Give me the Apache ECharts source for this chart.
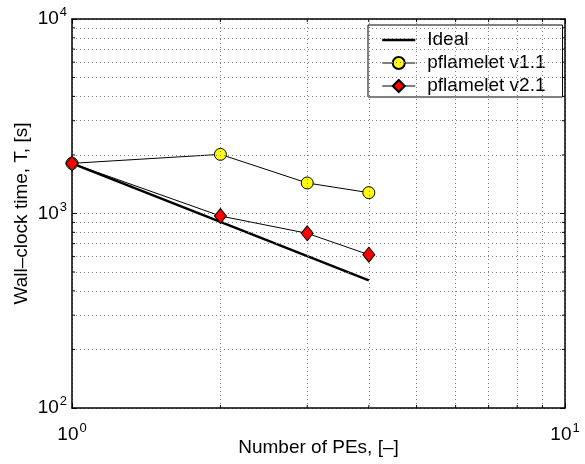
<!DOCTYPE html>
<html>
<head>
<meta charset="utf-8">
<script src="https://cdn.jsdelivr.net/npm/echarts@6/dist/echarts.min.js"></script>
<style>html,body{margin:0;padding:0;background:#fff;}#c{width:585px;height:464px;}</style>
</head>
<body>
<div id="c"></div>
<script>
const idealX = [1, 4];
const idealY = [1811, 453];
const peX = [1, 2, 3, 4];
const v11 = [1811, 2014, 1435, 1280];
const v21 = [1811, 971, 791, 614];
const xMinorGrid = [2, 3, 4, 5, 6, 7, 8, 9];
const yMinorGrid = [200, 300, 400, 500, 600, 700, 800, 900, 2000, 3000, 4000, 5000, 6000, 7000, 8000, 9000];
const seriesNames = ['Ideal', 'pflamelet v1.1', 'pflamelet v2.1'];
const X_MIN = 1, X_MAX = 10, Y_MIN = 100, Y_MAX = 10000;

const FONT = 'Liberation Sans, Arial, sans-serif';
const gridStyle = { color: '#808080', width: 1, type: [1, 3] };
function supLabel(v) {
  const e = Math.round(Math.log10(v));
  return '{b|10}{s|' + e + '}';
}
const richSup = {
  b: { fontSize: 19, fontFamily: FONT, color: '#000' },
  s: { fontSize: 13, fontFamily: FONT, color: '#000', padding: [0, 0, 13, 1] }
};
const zip = (xs, ys) => xs.map((x, i) => [x, ys[i]]);
const tickLine = (x1, y1, x2, y2) => ({
  type: 'line', shape: { x1, y1, x2, y2 },
  style: { stroke: '#000', lineWidth: 1 }
});
const MINOR_LEN = 3;

const chart = echarts.init(document.getElementById('c'), null, { renderer: 'canvas' });
chart.setOption({
  backgroundColor: '#fff',
  animation: false,
  grid: { left: 72, right: 20, top: 19, bottom: 56, containLabel: false, outerBoundsMode: 'none' },
  xAxis: [{
    type: 'log', logBase: 10, min: X_MIN, max: X_MAX,
    name: 'Number of PEs, [\u2013]', nameLocation: 'middle', nameGap: 30, nameMoveOverlap: false,
    nameTextStyle: { fontSize: 19, fontFamily: FONT, color: '#000' },
    axisLine: { show: true, lineStyle: { color: '#000', width: 1.5 } },
    axisTick: { show: true, inside: true, length: 5, lineStyle: { color: '#000' } },
    axisLabel: { formatter: supLabel, rich: richSup, margin: 14 },
    splitLine: { show: true, lineStyle: gridStyle }
  }, {
    type: 'log', logBase: 10, min: X_MIN, max: X_MAX, position: 'top',
    axisLine: { show: true, lineStyle: { color: '#000', width: 1.5 } },
    axisTick: { show: true, inside: true, length: 5, lineStyle: { color: '#000' } },
    axisLabel: { show: false }, splitLine: { show: false }
  }],
  yAxis: [{
    type: 'log', logBase: 10, min: Y_MIN, max: Y_MAX,
    name: 'Wall\u2013clock time, T, [s]', nameLocation: 'middle', nameGap: 41, nameMoveOverlap: false,
    nameTextStyle: { fontSize: 19, fontFamily: FONT, color: '#000' },
    axisLine: { show: true, lineStyle: { color: '#000', width: 1.5 } },
    axisTick: { show: true, inside: true, length: 5, lineStyle: { color: '#000' } },
    axisLabel: { formatter: supLabel, rich: richSup, margin: 5 },
    splitLine: { show: true, lineStyle: gridStyle }
  }, {
    type: 'log', logBase: 10, min: Y_MIN, max: Y_MAX, position: 'right',
    axisLine: { show: true, lineStyle: { color: '#000', width: 1.5 } },
    axisTick: { show: true, inside: true, length: 5, lineStyle: { color: '#000' } },
    axisLabel: { show: false }, splitLine: { show: false }
  }],
  legend: {
    orient: 'vertical', left: 368, top: 25,
    padding: [5, 17, 1, 13],
    itemWidth: 33, itemHeight: 15, itemGap: 3,
    backgroundColor: '#fff', borderColor: '#000', borderWidth: 1,
    textStyle: { fontSize: 19, lineHeight: 20, fontFamily: FONT, color: '#000', padding: [0, 0, 0, 7] },
    data: [
      { name: seriesNames[0], itemStyle: { opacity: 0 }, lineStyle: { width: 2.5, color: '#000' } },
      { name: seriesNames[1], lineStyle: { width: 1, color: '#000' } },
      { name: seriesNames[2], lineStyle: { width: 1, color: '#000' } }
    ]
  },
  series: [{
    name: 'grid-minor', type: 'line', data: [], silent: true,
    markLine: {
      silent: true, symbol: ['none', 'none'], label: { show: false },
      lineStyle: gridStyle, animation: false,
      data: xMinorGrid.map(v => ({ xAxis: v })).concat(yMinorGrid.map(v => ({ yAxis: v })))
    }
  }, {
    name: 'x-minor-ticks', type: 'custom', silent: true, z: 6,
    data: xMinorGrid.map(v => [v, Y_MIN]),
    renderItem: (params, api) => {
      const b = api.coord([api.value(0), Y_MIN]);
      const t = api.coord([api.value(0), Y_MAX]);
      return { type: 'group', children: [
        tickLine(b[0], b[1], b[0], b[1] - MINOR_LEN),
        tickLine(t[0], t[1], t[0], t[1] + MINOR_LEN)
      ] };
    }
  }, {
    name: 'y-minor-ticks', type: 'custom', silent: true, z: 6,
    data: yMinorGrid.map(v => [X_MIN, v]),
    renderItem: (params, api) => {
      const l = api.coord([X_MIN, api.value(1)]);
      const r = api.coord([X_MAX, api.value(1)]);
      return { type: 'group', children: [
        tickLine(l[0], l[1], l[0] + MINOR_LEN, l[1]),
        tickLine(r[0], r[1], r[0] - MINOR_LEN, r[1])
      ] };
    }
  }, {
    name: seriesNames[0], type: 'line', data: zip(idealX, idealY),
    symbol: 'none', lineStyle: { color: '#000', width: 2.5 }, itemStyle: { color: '#000' }, z: 3
  }, {
    name: seriesNames[1], type: 'line', data: zip(peX, v11),
    symbol: 'circle', symbolSize: 12,
    lineStyle: { color: '#000', width: 1 },
    itemStyle: { color: '#ffff00', borderColor: '#000', borderWidth: 1 }, z: 4
  }, {
    name: seriesNames[2], type: 'line', data: zip(peX, v21),
    symbol: 'diamond', symbolSize: [12, 15],
    lineStyle: { color: '#000', width: 1 },
    itemStyle: { color: '#ff0000', borderColor: '#000', borderWidth: 1 }, z: 5
  }]
});
</script>
</body>
</html>
